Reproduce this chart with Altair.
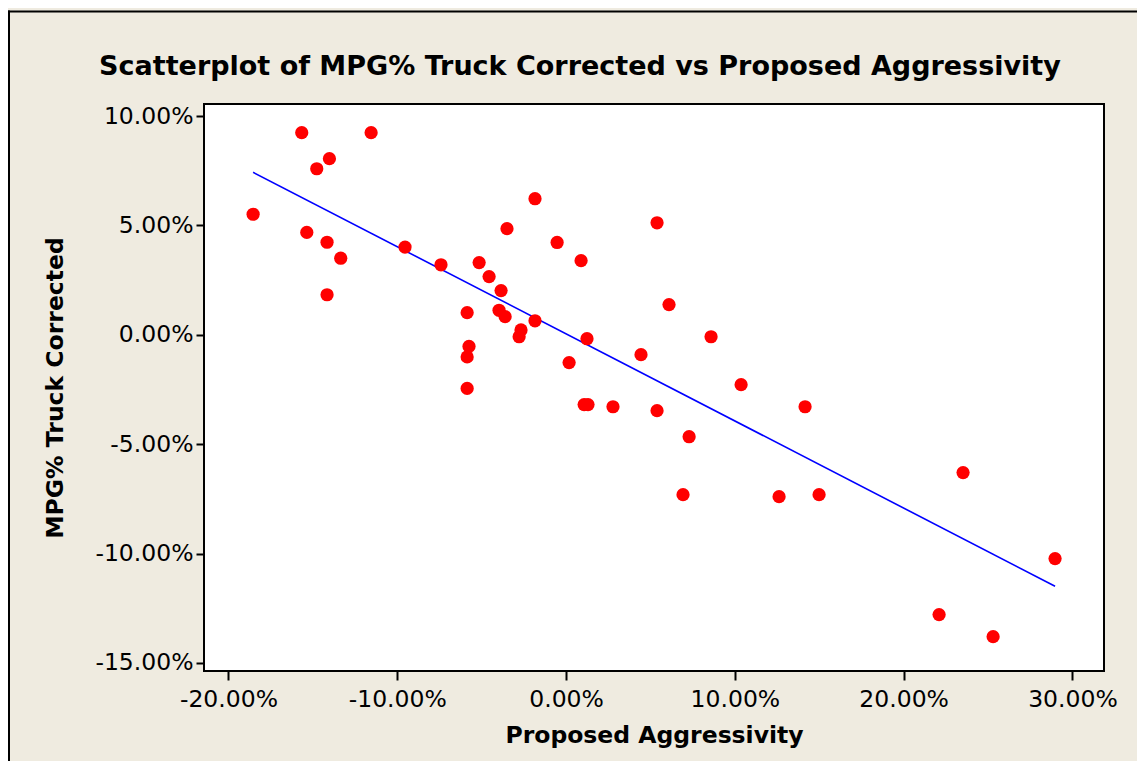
import altair as alt
import pandas as pd

# Proposed Aggressivity (%)
aggressivity = [
    -18.54, -15.66, -15.36, -14.77, -14.16, -14.16, -14.02, -13.35, -11.55, -9.54,
    -7.41, -5.86, -5.75, -5.86, -5.86, -5.15, -4.56, -3.85, -3.97, -3.61,
    -3.50, -2.67, -2.78, -1.84, -1.84, -0.53, 0.18, 0.89, 1.24, 1.07,
    1.30, 2.78, 4.44, 5.39, 5.39, 6.10, 6.93, 7.29, 8.59, 10.37,
    12.62, 14.16, 14.99, 22.10, 23.52, 25.30, 28.97,
]
# MPG% Truck Corrected (%)
mpg_corrected = [
    5.51, 9.24, 4.68, 7.59, 4.23, 1.83, 8.05, 3.50, 9.24, 4.01,
    3.20, 1.01, -0.53, -1.01, -2.45, 3.30, 2.66, 2.02, 1.12, 0.83,
    4.85, 0.22, -0.09, 0.64, 6.22, 4.22, -1.27, 3.39, -0.18, -3.19,
    -3.19, -3.29, -0.91, 5.12, -3.47, 1.38, -7.31, -4.66, -0.09, -2.28,
    -7.40, -3.29, -7.31, -12.79, -6.30, -13.80, -10.23,
]
x_ticks = [-20, -10, 0, 10, 20, 30]
y_ticks = [10, 5, 0, -5, -10, -15]

df = pd.DataFrame({"x": aggressivity, "y": mpg_corrected})

FONT = "DejaVu Sans"
label_expr = "replace(format(datum.value, '.2f'), '\u2212', '-') + '%'"

x_enc = alt.X(
    "x:Q",
    scale=alt.Scale(domain=[-21.45, 31.87], nice=False, zero=False),
    axis=alt.Axis(
        title="Proposed Aggressivity",
        values=x_ticks,
        labelExpr=label_expr,
        grid=False,
        domain=False,
        tickColor="black",
        tickWidth=2,
        tickSize=9,
        labelPadding=7,
        labelFontSize=23.5,
        labelFont=FONT,
        labelColor="black",
        titleFont=FONT,
        titleFontSize=23.5,
        titleFontWeight="bold",
        titleColor="black",
        titlePadding=13,
    ),
)
y_enc = alt.Y(
    "y:Q",
    scale=alt.Scale(domain=[-15.37, 10.55], nice=False, zero=False),
    axis=alt.Axis(
        title="MPG% Truck Corrected",
        values=y_ticks,
        labelExpr=label_expr,
        grid=False,
        domain=False,
        tickColor="black",
        tickWidth=2,
        tickSize=8,
        labelPadding=3,
        labelFontSize=23.5,
        labelFont=FONT,
        labelColor="black",
        titleFont=FONT,
        titleFontSize=23.5,
        titleFontWeight="bold",
        titleColor="black",
        titlePadding=27,
    ),
)

base = alt.Chart(df)
one = pd.DataFrame({"a": [0]})

# outer figure frame: left and top edges only (the rest lies outside the picture)
frame_left = alt.Chart(one).mark_rule(color="black", strokeWidth=2, clip=False).encode(
    x=alt.value(-195), y=alt.value(-93.5), y2=alt.value(700)
)
frame_top = alt.Chart(one).mark_rule(color="black", strokeWidth=2, clip=False).encode(
    x=alt.value(-196), x2=alt.value(960), y=alt.value(-92.5)
)

points = base.mark_circle(size=175, color="#FF0000", opacity=1).encode(x=x_enc, y=y_enc)

fit = base.transform_regression("x", "y").mark_line(
    color="#0000FF", strokeWidth=1.6
).encode(x="x:Q", y="y:Q")

chart = alt.layer(frame_left, frame_top, fit, points).properties(
    width=900,
    height=567,
    background="#EFEBE0",
    padding={"left": 196, "top": 96, "right": 33, "bottom": 90},
    autosize=alt.AutoSizeParams(type="none"),
    title=alt.TitleParams(
        "Scatterplot of MPG% Truck Corrected vs Proposed Aggressivity",
        font=FONT,
        fontSize=27,
        fontWeight="bold",
        color="black",
        anchor="middle",
        dx=-74,
        offset=0,
        dy=71,
    ),
).configure_view(
    fill="white", stroke="black", strokeWidth=2
)

chart.save("out.html", embed_options={"renderer": "svg", "actions": False})
